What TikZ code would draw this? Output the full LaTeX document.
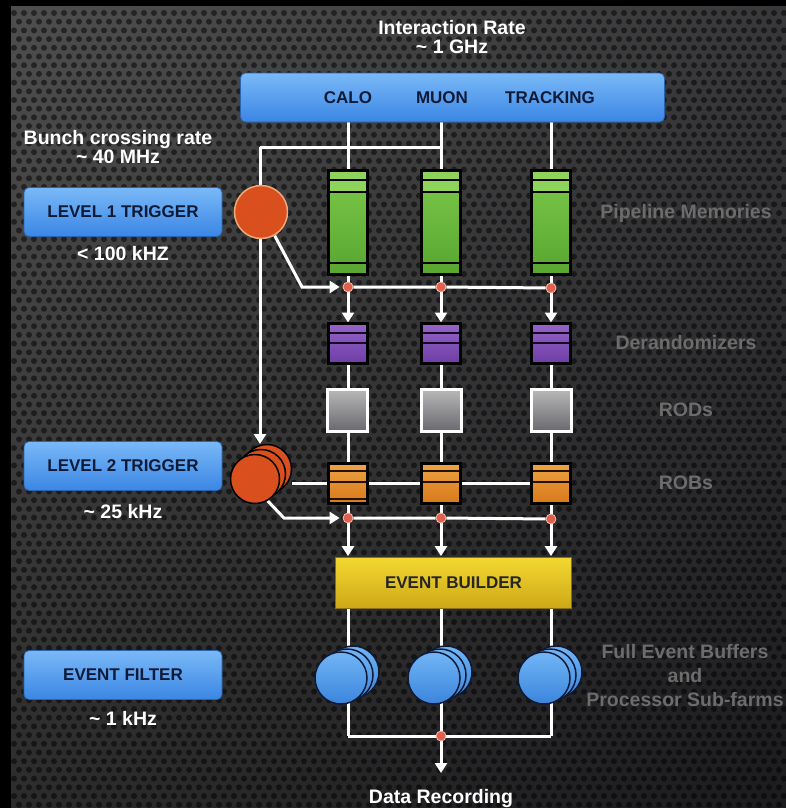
\documentclass[tikz,border=0pt]{standalone}
\usepackage{fontspec}
\setmainfont{Liberation Sans}
\usetikzlibrary{arrows.meta,shadings}

\definecolor{bgUL}{HTML}{4E4E4E}
\definecolor{bgUR}{HTML}{38383A}
\definecolor{bgLL}{HTML}{2C2C2C}
\definecolor{bgLR}{HTML}{1C1C1F}
\definecolor{blueT}{HTML}{7AB9F8}
\definecolor{blueB}{HTML}{3A86E4}
\definecolor{blueD}{HTML}{2A64B0}
\definecolor{navy}{HTML}{0E1A36}
\definecolor{greyT}{HTML}{6C6C6C}
\definecolor{grnT}{HTML}{7CC84A}
\definecolor{grnB}{HTML}{58A630}
\definecolor{grnL}{HTML}{8ED45C}
\definecolor{purT}{HTML}{9464C8}
\definecolor{purB}{HTML}{6E3EA6}
\definecolor{ornT}{HTML}{EEA442}
\definecolor{ornB}{HTML}{D8781A}
\definecolor{rodT}{HTML}{B8B8B8}
\definecolor{rodB}{HTML}{68686E}
\definecolor{redc}{HTML}{D9501E}
\definecolor{redL}{HTML}{F0A878}
\definecolor{dotR}{HTML}{E06050}
\definecolor{dotL}{HTML}{F6C0B0}
\definecolor{ylwT}{HTML}{F4D830}
\definecolor{ylwB}{HTML}{CCA818}
\definecolor{ylwD}{HTML}{8A7010}
\definecolor{bufT}{HTML}{72B6F6}
\definecolor{bufB}{HTML}{3A84DC}

\pgfdeclarelayer{back}
\pgfdeclarelayer{wires}
\pgfsetlayers{back,wires,main}

\tikzset{
  wire/.style={draw=white, line width=3pt},
  arr/.style={wire, -{Triangle[width=12pt,length=10pt]}},
  lbl/.style={text=white, font=\fontsize{19.5}{19}\selectfont\bfseries, align=center, inner sep=0pt},
  glbl/.style={lbl, text=greyT},
  tbox/.style={rounded corners=5pt, top color=blueT, bottom color=blueB, draw=blueD, line width=0.8pt,
    text=navy, font=\fontsize{17}{17}\selectfont\bfseries, minimum width=198pt, minimum height=49pt, inner sep=0pt},
  btxt/.style={text=navy, font=\fontsize{17}{17}\selectfont\bfseries, inner sep=0pt},
  memo/.style={draw=black, line width=3pt, minimum width=39pt, inner sep=0pt, outer sep=0pt},
  greenbox/.style={memo, minimum height=104pt, top color=grnT, bottom color=grnB,
    path picture={
      \fill[grnL] (path picture bounding box.north west) rectangle ([yshift=-21.5pt]path picture bounding box.north east);
      \foreach \d in {9.5pt,21.5pt}
        \draw[black,line width=2.5pt] ([yshift=-\d]path picture bounding box.north west) -- ([yshift=-\d]path picture bounding box.north east);
      \draw[black,line width=2.5pt] ([yshift=11.5pt]path picture bounding box.south west) -- ([yshift=11.5pt]path picture bounding box.south east);
    }},
  purbox/.style={memo, minimum height=40pt, top color=purT, bottom color=purB,
    path picture={
      \foreach \d in {9.5pt,19.5pt}
        \draw[black!80!purB,line width=2.5pt] ([yshift=-\d]path picture bounding box.north west) -- ([yshift=-\d]path picture bounding box.north east);
    }},
  rodbox/.style={draw=white, line width=3pt, minimum width=40pt, minimum height=42pt, inner sep=0pt, outer sep=0pt,
    top color=rodT, bottom color=rodB},
  robbox/.style={memo, minimum height=40pt, top color=ornT, bottom color=ornB,
    path picture={
      \foreach \d in {7.5pt,18.5pt}
        \draw[black!85!ornB,line width=2.5pt] ([yshift=-\d]path picture bounding box.north west) -- ([yshift=-\d]path picture bounding box.north east);
    }},
  robextra/.style={path picture={
      \foreach \d in {7.5pt,18.5pt}
        \draw[black!85!ornB,line width=2.5pt] ([yshift=-\d]path picture bounding box.north west) -- ([yshift=-\d]path picture bounding box.north east);
      \draw[black!85!ornB,line width=2pt] ([yshift=4.5pt]path picture bounding box.south west) -- ([yshift=4.5pt]path picture bounding box.south east);
    }},
  rdot/.style={circle, minimum size=10pt, inner sep=0pt, fill=dotR, draw=dotL, line width=0.8pt},
  trig1/.style={circle, minimum size=53pt, inner sep=0pt, fill=redc, draw=redL, line width=1.5pt},
  trig2/.style={circle, minimum size=49pt, inner sep=0pt, fill=redc, draw=black, line width=1.5pt},
  buf/.style={circle, minimum size=52pt, inner sep=0pt, top color=bufT, bottom color=bufB, draw=navy, line width=1.5pt},
}

\begin{document}
\begin{tikzpicture}[x=1pt,y=-1pt]
\useasboundingbox (0,0) rectangle (786,808);

\begin{pgfonlayer}{back}
  \fill[black] (0,0) rectangle (786,808);
  \shade[upper left=bgUL, upper right=bgUR, lower left=bgLL, lower right=bgLR] (11,7) rectangle (786,808);
  \begin{scope}
    \clip (11,7) rectangle (786,808);
    \foreach \r in {0,...,92} {
      \pgfmathsetmacro{\ry}{13+\r*8.7}
      \pgfmathsetmacro{\rx}{14+mod(\r,2)*5}
      \fill[black, fill opacity=0.5]
        \foreach \c in {0,...,78} { ({\rx+\c*10}, \ry) circle [radius=3] };
    }
  \end{scope}
\end{pgfonlayer}

% left labels and trigger boxes
\node[lbl] (bcr) at (118,147) {Bunch crossing rate\\\textasciitilde\ 40 MHz};
\node[tbox] (lv1) at (123,212) {LEVEL 1 TRIGGER};
\node[lbl] (rate1) at (123,254) {< 100 kHZ};
\node[tbox] (lv2) at (123,466) {LEVEL 2 TRIGGER};
\node[lbl] (rate2) at (123,512) {\textasciitilde\ 25 kHz};
\node[tbox] (ef) at (123,675) {EVENT FILTER};
\node[lbl] (rate3) at (123,718) {\textasciitilde\ 1 kHz};

% top
\node[lbl] (ir) at (452,37) {Interaction Rate\\\textasciitilde\ 1 GHz};
\node[tbox, minimum width=424pt, minimum height=49pt] (bar) at (452.5,97.5) {};
\node[btxt] (calo) at (348,98) {CALO};
\node[btxt] (muon) at (442,98) {MUON};
\node[btxt] (trk) at (550,98) {TRACKING};

% right labels
\node[glbl] (lpm) at (686,213) {Pipeline Memories};
\node[glbl] (lder) at (686,343) {Derandomizers};
\node[glbl] (lrod) at (686,410) {RODs};
\node[glbl] (lrob) at (686,483) {ROBs};
\node[glbl, font=\fontsize{19.5}{24}\selectfont\bfseries] (lfeb) at (685,676) {Full Event Buffers\\and\\Processor Sub-farms};

% columns
\node[greenbox] (g1) at (348,222.5) {};
\node[greenbox] (g2) at (441,222.5) {};
\node[greenbox] (g3) at (551,222.5) {};
\node[purbox] (p1) at (348,343.5) {};
\node[purbox] (p2) at (441,343.5) {};
\node[purbox] (p3) at (551,343.5) {};
\node[rodbox] (r1) at (347,410.5) {};
\node[rodbox] (r2) at (441,410.5) {};
\node[rodbox] (r3) at (551,410.5) {};
\node[robbox, robextra] (o1) at (348,483.5) {};
\node[robbox] (o2) at (441,483.5) {};
\node[robbox] (o3) at (551,483.5) {};

% dots
\node[rdot] (d11) at (348,287) {};
\node[rdot] (d12) at (441,287) {};
\node[rdot] (d13) at (551,288) {};
\node[rdot] (d21) at (348,518) {};
\node[rdot] (d22) at (441,518) {};
\node[rdot] (d23) at (551,519) {};

% triggers
\node[trig1] (l1) at (261,212) {};
\node[trig2] (l2c) at (267,469) {};
\node[trig2] (l2b) at (261,474) {};
\node[trig2] (l2a) at (255,479) {};

% event builder
\node[draw=ylwD, line width=0.8pt, top color=ylwT, bottom color=ylwB, minimum width=236pt, minimum height=51pt,
  inner sep=0pt, text=black!85, font=\fontsize{17}{17}\selectfont\bfseries] (eb) at (453.5,583) {EVENT BUILDER};

% buffers
\node[buf] (b1c) at (353,672) {};
\node[buf] (b1b) at (347,675) {};
\node[buf] (b1a) at (341,678) {};
\node[buf] (b2c) at (446,672) {};
\node[buf] (b2b) at (440,675) {};
\node[buf] (b2a) at (434,678) {};
\node[buf] (b3c) at (556,672) {};
\node[buf] (b3b) at (550,675) {};
\node[buf] (b3a) at (544,678) {};

\node[rdot] (dj) at (441,736) {};
\node[lbl] (rec) at (441,798) {Data Recording};

\coordinate (bc) at (260,147);
\coordinate (l2top) at (260,444);
\coordinate (k1) at (302,287);
\coordinate (k2) at (284,518);
\coordinate (j1) at (348,736);
\coordinate (j3) at (551,736);
\coordinate (recend) at (441,773);

\begin{pgfonlayer}{wires}
  \draw[wire] (g1.north |- bar.south) -- (g1.north);
  \draw[wire] (g2.north |- bar.south) -- (g2.north);
  \draw[wire] (g3.north |- bar.south) -- (g3.north);
  \draw[wire] (g2.north |- bc) -- (bc);
  \draw[arr] (bc) -- (l2top);
  \draw[arr, shorten >=3pt] (l1.-60) -- (k1) -- (d11.west);
  \draw[wire] (d11) -- (d12) -- (d13);
  \draw[wire] (o1.center -| l2c.east) -- (o3.center);
  \draw[arr, shorten >=3pt] (l2a.-60) -- (k2) -- (d21.west);
  \draw[wire] (d21) -- (d22) -- (d23);
  \foreach \c in {1,2,3}{
    \draw[wire] (g\c.south) -- (d1\c);
    \draw[arr, shorten >=1pt] (d1\c) -- (p\c.north -| d1\c);
    \draw[wire] (p\c.south) -- (r\c.north -| p\c.south);
    \draw[wire] (r\c.south -| o\c.north) -- (o\c.north);
    \draw[wire] (o\c.south) -- (d2\c);
    \draw[arr, shorten >=1pt] (d2\c) -- (d2\c |- eb.north);
  }
  \draw[wire] (d21 |- eb.south) -- (j1);
  \draw[wire] (d22 |- eb.south) -- (dj);
  \draw[wire] (d23 |- eb.south) -- (j3);
  \draw[wire] (j1) -- (j3);
  \draw[arr] (dj) -- (recend);
\end{pgfonlayer}
\end{tikzpicture}
\end{document}
